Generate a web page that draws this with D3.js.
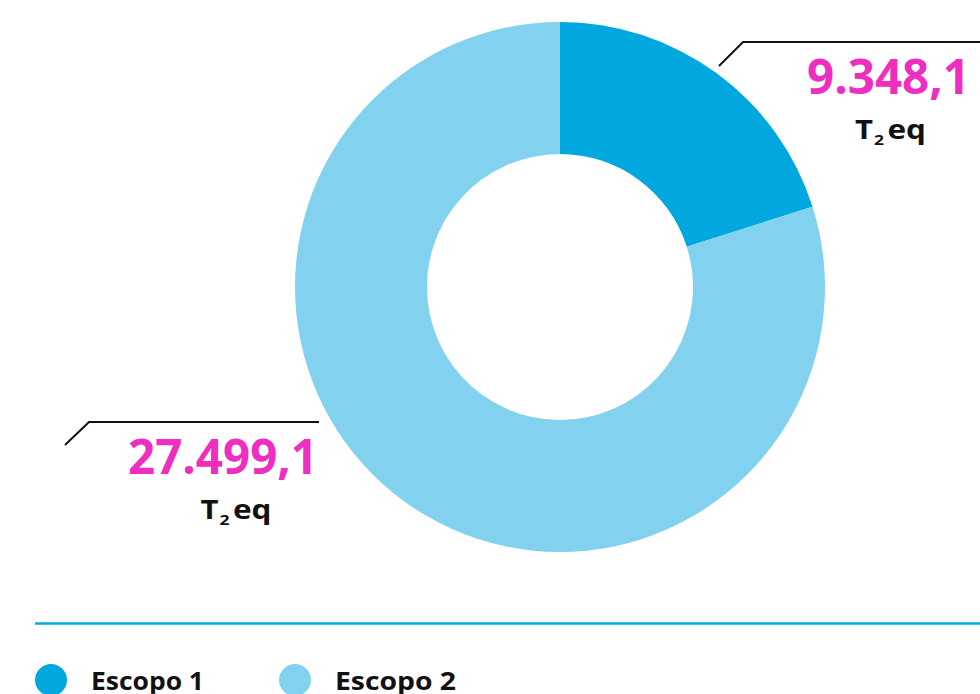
<!DOCTYPE html>
<html>
<head>
<meta charset="utf-8">
<script src="https://cdn.jsdelivr.net/npm/d3@7"></script>
<style>
  html, body { margin: 0; padding: 0; background: #fff; }
  svg { display: block; }
  text { font-family: "Open Sans", "DejaVu Sans", sans-serif; font-weight: 700; }
</style>
</head>
<body>
<svg id="chart" width="980" height="694"></svg>
<script>
// Data
const categories = ["Escopo 1", "Escopo 2"];
const valueLabels = ["9.348,1", "27.499,1"];
const unitLabel = ["T", "2", "eq"];
// slice shares as drawn in the reference (percent of the ring)
const sliceShares = [20.1, 79.9];
const colors = ["#00A8DF", "#82D2EF"];

const svg = d3.select("#chart");
const cx = 560, cy = 287, outerR = 265, innerR = 133;

const pie = d3.pie().sort(null).value(d => d.share);
const arcs = pie(categories.map((c, i) => ({ cat: c, share: sliceShares[i] })));
const arc = d3.arc().innerRadius(innerR).outerRadius(outerR);

const g = svg.append("g").attr("transform", `translate(${cx},${cy})`);
g.selectAll("path").data(arcs).join("path")
  .attr("d", arc)
  .attr("fill", (d, i) => colors[i]);

// Leader lines and labels
const labelSpecs = [
  { line: [[719, 66], [743, 42], [980, 42]], numX: 970, numY: 94, numW: 163, unitX: 855, unitY: 138.5 },
  { line: [[65, 445], [89, 422], [319, 422]], numX: 318, numY: 474, numW: 190, unitX: 200.5, unitY: 518.5 }
];
const line = d3.line();
labelSpecs.forEach((s, i) => {
  svg.append("path").attr("d", line(s.line))
    .attr("fill", "none").attr("stroke", "#111").attr("stroke-width", 2);
  svg.append("text")
    .attr("x", s.numX).attr("y", s.numY)
    .attr("text-anchor", "end")
    .attr("font-size", 48)
    .attr("fill", "#EE2EC0")
    .attr("textLength", s.numW).attr("lengthAdjust", "spacingAndGlyphs")
    .text(valueLabels[i]);
  const ug = svg.append("g").attr("transform", `translate(${s.unitX},${s.unitY})`);
  ug.append("text").attr("x", 0).attr("y", 0).attr("font-size", 27).attr("fill", "#111")
    .attr("textLength", 18).attr("lengthAdjust", "spacingAndGlyphs").text(unitLabel[0]);
  ug.append("text").attr("x", 19).attr("y", 6).attr("font-size", 15).attr("fill", "#111")
    .attr("textLength", 10).attr("lengthAdjust", "spacingAndGlyphs").text(unitLabel[1]);
  ug.append("text").attr("x", 32.5).attr("y", 0).attr("font-size", 27).attr("fill", "#111")
    .attr("textLength", 38.5).attr("lengthAdjust", "spacingAndGlyphs").text(unitLabel[2]);
});

// Separator
svg.append("line").attr("x1", 35).attr("x2", 980).attr("y1", 623.5).attr("y2", 623.5)
  .attr("stroke", "#00A8DF").attr("stroke-width", 2.5);

// Legend
const legendX = [51, 295];
const lg = svg.selectAll("g.legend").data(categories).join("g")
  .attr("class", "legend")
  .attr("transform", (d, i) => `translate(${legendX[i]},680)`);
lg.append("circle").attr("r", 16).attr("fill", (d, i) => colors[i]);
lg.append("text").attr("x", 40).attr("y", 10)
  .attr("font-size", 25).attr("fill", "#111")
  .attr("textLength", (d, i) => i === 0 ? 113 : 121).attr("lengthAdjust", "spacingAndGlyphs")
  .text(d => d);
</script>
</body>
</html>
